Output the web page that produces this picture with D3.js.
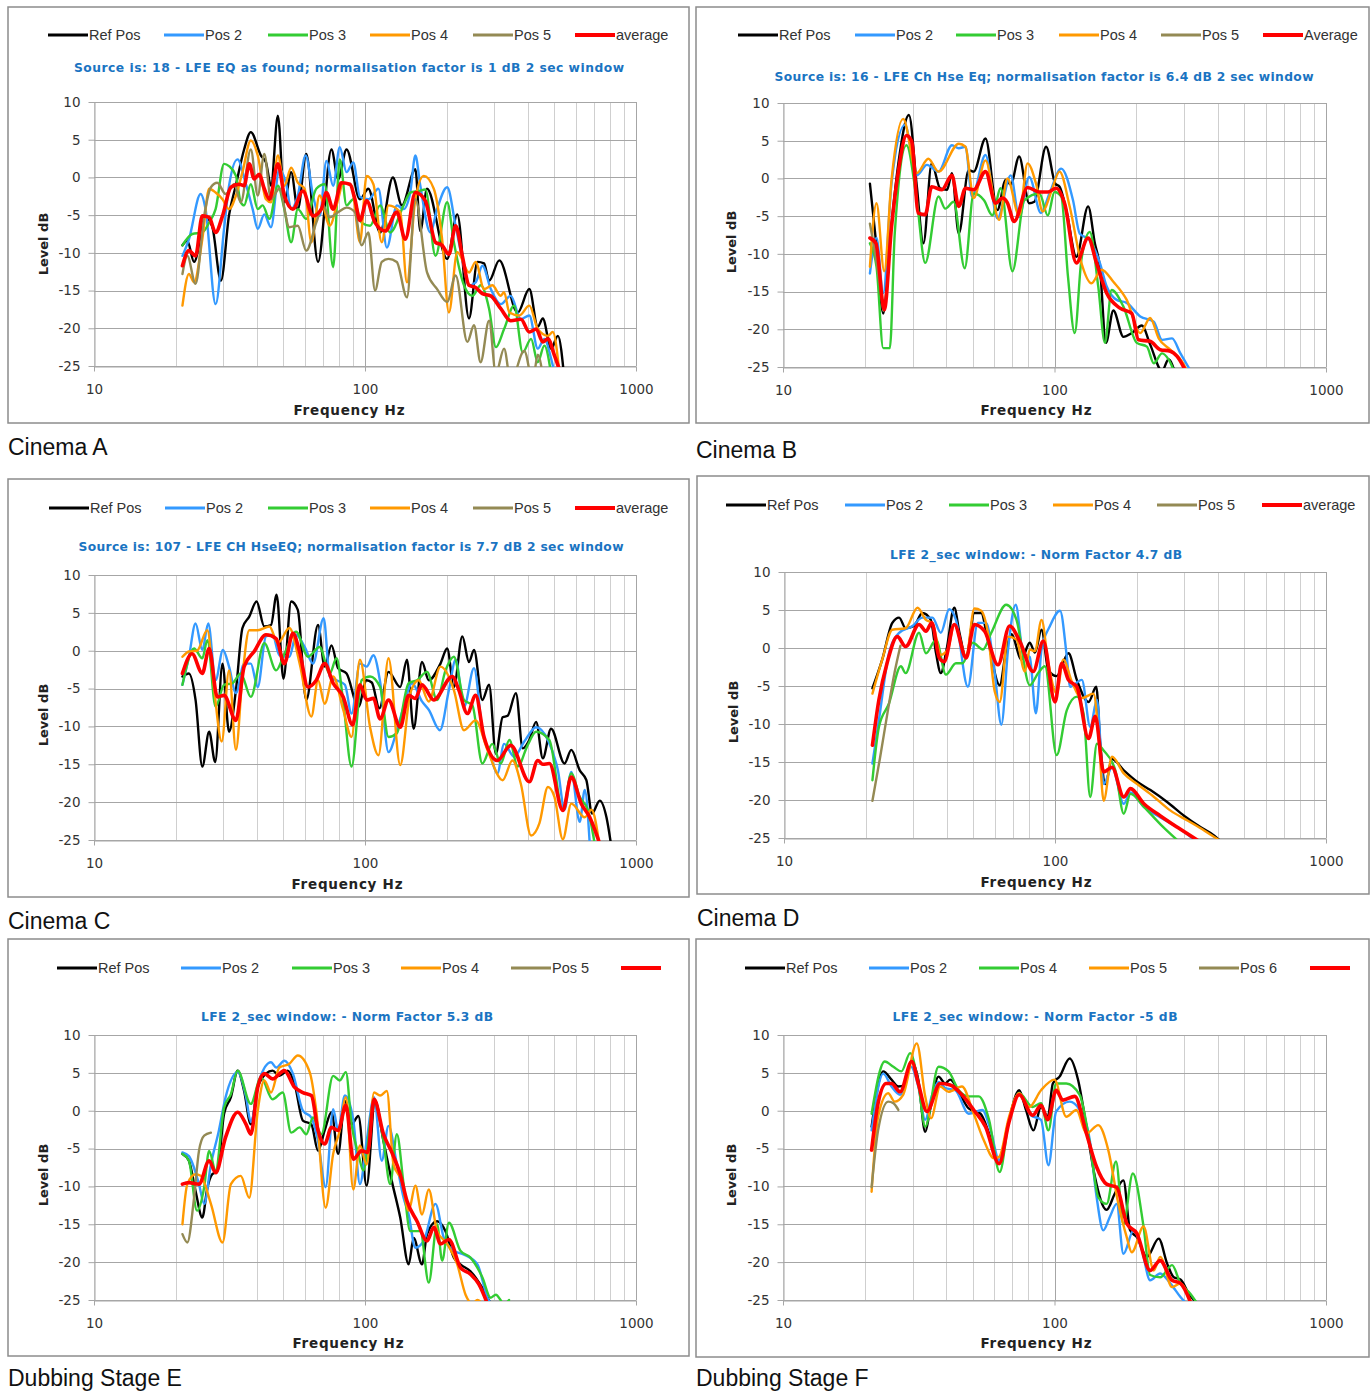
<!DOCTYPE html>
<html><head><meta charset="utf-8">
<script src="https://cdn.jsdelivr.net/npm/d3@7"></script>
<style>
body{margin:0;background:#fff}
svg{display:block}
</style></head><body>
<div id="chart"></div>
<script>
// colours in series order: Ref, Pos 2, Pos 3, Pos 4, Pos 5, average
var colors = ['#000000','#3399ff','#33cc33','#ff9900','#948a54','#ff0000']
var yTicks = [10,5,0,-5,-10,-15,-20,-25]
var xTicks = [10,100,1000]

var namesA = ['Ref Pos','Pos 2','Pos 3','Pos 4','Pos 5','average']
var namesB = ['Ref Pos','Pos 2','Pos 3','Pos 4','Pos 5','Average']
var namesE = ['Ref Pos','Pos 2','Pos 3','Pos 4','Pos 5','']
var namesF = ['Ref Pos','Pos 2','Pos 4','Pos 5','Pos 6','']

// [Hz, dB]
// ---- Cinema A
var aRef = [[21.2,-9],[22.1,-8.4],[23.4,-11.2],[25.8,-5.3],[27.3,-6.5],[29.4,-13.7],[31.5,-5],[33.4,-1],[35.8,3.7],[37.9,6],[41.3,2.9],[43.1,2],[45,-1.1],[47.7,8.2],[50.4,-3.3],[53.4,0.7],[56.5,-4.2],[60.7,3.1],[67.1,-11.2],[75.2,3.7],[79.6,-0.2],[85.5,3.7],[95.8,-2.9],[102.9,-1.5],[113.7,-7.3],[126.7,0],[136.8,-3.7],[153.4,1.1],[160,-7.1],[169.4,-1.5],[201,-10.8],[219,-4.9],[242,-18.7],[260,-11.2],[275,-11.4],[287,-13.7],[313,-11],[366,-17.9],[404,-14.8],[434,-19.8],[453,-18.7],[486,-22.7],[515,-21],[545,-27]]
var aP2 = [[21.2,-10.4],[22.4,-8.2],[24.75,-2.2],[25.8,-4.2],[28.1,-16.8],[30.2,-6.8],[31.5,-1.1],[33.85,2.4],[36.35,-0.9],[38.5,-4.2],[40.2,-6.8],[42.5,-4.9],[45,-6.6],[48.3,1.1],[51.2,-0.9],[53.4,-4.2],[56.5,-2.4],[60.4,2.9],[64.3,-2.4],[68.05,-5.1],[72.05,2.2],[76.3,-1.1],[80.7,4],[85.5,0.7],[90.5,2],[95.8,-2.6],[102.9,-2.9],[112.1,-1.5],[120.4,-9.3],[131.1,-3.7],[138.8,-4.2],[146.9,-2],[153.4,2.9],[160,-1.1],[174.3,-7.3],[184.5,-4.2],[201,-1.3],[215.9,-6.4],[228.6,-10.8],[242,-14.3],[256.1,-13.9],[271.2,-11.7],[291.2,-14.8],[317,-16.8],[345,-15.7],[376,-18.8],[404,-18.3],[434,-22.7],[459,-21.4],[486,-24],[508,-27]]
var aP3 = [[21.2,-9],[23.05,-7.5],[25.1,-7.3],[26.6,-6],[28.1,-4.2],[30.2,1.8],[31.5,1.5],[33.4,0.2],[34.8,-3.3],[35.8,-3.7],[37.9,-0.9],[40.2,-4.2],[41.9,-3.7],[44.4,-5.5],[47.7,-1.1],[50.4,-4.2],[53.4,-8.6],[56.5,-4.2],[60.7,-5.5],[66.1,-1.5],[71,-0.9],[76.3,-11.9],[80.7,2.4],[85.5,-3.7],[90.5,-2.9],[97.2,-6],[104.4,-6.4],[113.7,-3.7],[123.8,-7.3],[138.8,-3.7],[146.9,-2],[157.8,-1.8],[167,-1.6],[182,-10.4],[201,-3.3],[212.8,-8.6],[231.9,-14.3],[248.9,-15.7],[267.3,-14.3],[287,-17.4],[304,-22.5],[326,-20.1],[355,-17],[382,-23.2],[410,-21.4],[434,-24.5],[459,-22.3],[486,-26]]
var aP4 = [[21.2,-17],[22.4,-12.8],[23.4,-13.9],[25.1,-8.2],[26.6,-1.5],[28.1,-2],[29.8,-2.9],[31.5,-4.2],[33.4,-2.4],[35.3,0.7],[37.9,4.9],[40.2,2.9],[43.1,-2.9],[45,-3.3],[47.7,2.9],[50.4,-1.1],[53.4,1.3],[56.5,-0.7],[59.9,-1.5],[63.4,-8.6],[68,-2.4],[74.1,-6.4],[79.6,-2.9],[83.1,-0.7],[89.2,-1.1],[95.8,-8.6],[101.4,0.2],[107.4,-0.9],[115.3,-8.6],[122.1,-3.7],[134.9,-4.6],[142.8,-13.9],[153.4,-2.9],[164.7,0.2],[179.4,-1.5],[192.6,-8.2],[204,-17.9],[219,-9.9],[242,-12.6],[256,-11.2],[275,-14.8],[295,-14.3],[317,-15.7],[326,-15.2],[341,-17.9],[371,-18.3],[404,-17],[434,-20.1],[473,-21],[493,-20.5],[522,-26]]
var aP5 = [[21.2,-12.8],[22.1,-10.4],[23.7,-14.1],[25.5,-5.1],[27,-1.3],[28.5,-0.7],[30.6,-2.2],[32.9,-0.9],[34.8,-3.3],[37.9,3.7],[40.2,-2.4],[42.5,3.1],[45,-2.9],[48.3,-1.5],[52.6,-6.6],[56.5,-6.4],[60.7,-9.7],[66.1,-6],[70,-3.7],[74.1,-5.3],[79.6,-4.6],[85.5,-4],[91.8,-4.6],[97.2,-9],[102.9,-7.3],[108.9,-15],[115.3,-11.2],[122.1,-10.8],[131,-11.2],[142.8,-15.9],[153.4,-2.9],[169.4,-12.6],[184.5,-14.8],[201,-16.5],[216,-13],[238.6,-21.8],[252.5,-19.6],[267,-24.5],[287,-19],[304,-26],[326,-22.7],[345,-27],[387,-23],[416,-27],[434,-23.5],[459,-28]]
var aAvg = [[21.2,-11.7],[22.4,-9.7],[23.7,-10.4],[25.1,-5.1],[26.6,-5.3],[28.1,-7.3],[29.8,-5.1],[32,-1.3],[34.3,-0.9],[35.8,-1.1],[37.4,1.8],[39,-0.2],[40.7,0.4],[42.5,-1.5],[44.4,-2.9],[47.7,1.8],[50.4,-2.4],[54.2,-4.2],[59,-1.8],[64.3,-5.1],[69,-4.2],[72,-2],[76.3,-4.2],[81.9,-0.7],[88,-0.9],[91.8,-2.9],[95.8,-5.7],[101.4,-3.1],[108.9,-6],[118.7,-7.1],[131,-4.6],[140.8,-8.2],[153.4,-2],[167,-3.1],[182,-8.6],[192.6,-9],[204,-10.2],[216,-6.4],[228.6,-10.4],[242,-14.3],[256,-14.6],[271,-15.4],[291,-15.7],[317,-17.4],[345,-19],[376,-18.8],[404,-20.5],[428,-20.1],[453,-21.8],[473,-21.4],[500,-23.6],[522,-25.5]]

// ---- Cinema B
var bRef = [[20.9,-0.7],[22.1,-9],[23.4,-17.9],[24.8,-8],[26.6,2],[29.1,8.4],[31.1,-1],[32.9,-8.6],[35.3,2],[37.9,-1.3],[40.2,-1.5],[41.9,0.7],[44.4,-7.3],[48.3,1.1],[50.4,0.9],[55.7,5.3],[61.6,-4.2],[66.1,-0.2],[69,-0.8],[74.1,2.9],[80.7,-3.3],[84.3,-3.1],[93.1,4.2],[100.7,-0.7],[104.4,-1.1],[110.5,-4.2],[120.4,-10.4],[133,-3.7],[140.8,-8.6],[146.9,-11.7],[154.7,-21.8],[164.7,-17.5],[179.4,-21],[192.6,-20.5],[210,-19.5],[225,-22],[249,-25.5],[263,-24],[279,-26]]
var bP2 = [[20.9,-12.6],[22.1,-7.9],[23.4,-15.2],[25.1,-0.7],[28.1,7.1],[31.1,0.4],[33.9,1.8],[37.4,0.9],[41.9,4.4],[44.4,4],[47,4.2],[49.7,-2.4],[55.7,3.1],[61.6,-5.3],[69,0.4],[74.1,-5.1],[80.7,0.2],[89.2,-4.6],[95.8,-2],[105.9,1.3],[117,-2.9],[123.8,-7.3],[134.9,-8.2],[146.9,-11.2],[155.6,-14.3],[169.4,-16.1],[184.5,-16.5],[207,-18.3],[232,-19],[249,-21.4],[271,-21.2],[291,-23.2],[317,-25.5]]
var bP3 = [[20.9,-8.6],[22.1,-11.7],[23.4,-22.5],[24.75,-22.5],[25.8,-7.3],[28.5,4.4],[31.1,-2.9],[33.4,-11.2],[37.4,-2.4],[39.6,-4],[42.5,-3.1],[46.7,-11.9],[50.4,-2],[55,-2.9],[59,-4.9],[63.4,-1.3],[70,-12.3],[77.4,-2.9],[88,-2],[94.5,-4.9],[100,-1.8],[105.9,-2.4],[112.1,-13],[118.7,-20.5],[125.6,-10.8],[134.9,-7.1],[144.9,-14.3],[153.4,-21.8],[162.3,-14.8],[179.4,-17],[201,-21.8],[219,-22.3],[232,-24.5],[249,-23.2],[263,-24],[279,-26]]
var bP4 = [[20.9,-11.7],[22.1,-3.3],[23.6,-12.3],[25.1,-0.2],[27.7,7.9],[31.1,0.7],[34.3,2.6],[37.4,0.9],[44.4,4.6],[47,4.2],[50.4,-2.6],[55.7,2.4],[62.5,-5.5],[67.1,0],[74.1,-4.9],[79.6,2],[85.5,-0.7],[90.5,-4.4],[97.2,-1.8],[104.4,0.9],[113.7,-3.7],[125.6,-11.2],[136.8,-13.9],[149,-12.1],[164.7,-13.7],[184.5,-16.1],[207,-20.5],[225,-18.5],[242,-21.2],[267,-22.7],[295,-24.3],[313,-26]]
var bP5 = [[20.9,-6],[22.2,-11.5],[23.4,-17.5]]
var bAvg = [[20.9,-7.9],[22,-8.6],[23.6,-17.4],[25.1,-6.4],[26.6,0.9],[28.5,5.7],[29.8,4.9],[31.5,-4.6],[33.4,-4.8],[35.3,-1.1],[38.5,-1.5],[41.9,0.4],[44.4,-3.7],[47,-1.3],[50.4,-1.5],[55.7,0.9],[60.7,-3.3],[64.3,-2.6],[67,-3.2],[71,-5.7],[79.6,-1.2],[88,-1.8],[94.5,-1.8],[101.4,-1.3],[108.9,-3.3],[120.4,-11.2],[133,-7.9],[142.8,-11.2],[155.6,-15.2],[174.3,-17.2],[192.6,-17.9],[204,-21.4],[225,-21.6],[245,-22.7],[267,-22.9],[283,-23.6],[304,-25.5]]

// ---- Cinema C
var cRef = [[21.2,-3.4],[22.4,-3],[23.7,-6.5],[25.1,-15.3],[26.6,-10.7],[28,-14.7],[29.8,-1.7],[31.5,-10.7],[33.4,-5.2],[35.3,3],[37.4,4.5],[39.8,6.5],[42.5,3.2],[45,3.4],[47.2,7.4],[50,-3.7],[53.4,6.5],[56.5,5.4],[60.7,-6.5],[67.1,3.4],[71,-2.1],[75.2,0.7],[79.6,-2.3],[85.5,-3],[94.5,-7.4],[101.4,-3.9],[105.9,-4.2],[113,-7.6],[122.1,-2.8],[134.9,-4.8],[142.8,-1.2],[151.2,-10.3],[162.3,-1.5],[171.9,-3.9],[189.9,-1.7],[201,0.3],[212.8,-4.8],[228.6,1.9],[242,-1.5],[252.5,0.1],[271,-6.5],[287,-4.5],[304,-13.6],[322,-8.8],[336,-8.6],[360.5,-5.6],[382,-12.9],[404,-11.8],[428,-9.4],[453,-14.2],[486,-10.3],[545,-14.9],[577,-13.1],[620,-15.8],[656,-17.1],[688,-21.5],[735,-19.8],[778,-22],[812,-26]]
var cP2 = [[21.2,-4.5],[22.4,-0.8],[23.7,3.6],[25.1,0.1],[26.4,3.6],[28.1,-3.9],[29.9,0.1],[31.5,-2.1],[33.4,-5.6],[35.8,-1.7],[37.9,-1.7],[40.2,-4.8],[43.1,1.9],[45.6,2.1],[48.3,-0.6],[52.6,-0.8],[55.7,2.1],[59.9,0.5],[64.3,-1.7],[70.4,4.3],[74.1,-3.4],[78.5,-3.9],[84.3,-4.5],[89.2,-8.3],[95.8,-1.7],[101.4,-2.1],[107.4,-0.6],[113.7,-4.1],[122.1,-13.4],[131.1,-10.5],[138.8,-7.4],[149.1,-4.3],[162.3,-6.7],[171.9,-7.8],[189,-10.5],[204,-5.2],[216,-1.2],[232,-7.4],[252.5,-2.3],[271,-10.5],[291,-14],[308,-16.2],[326,-12.3],[355,-14],[387,-12],[428,-10.1],[473,-11.8],[515,-15.8],[545,-21],[577,-16],[620,-22.6],[647,-18.4],[675,-25.5]]
var cP3 = [[21.2,-4.5],[23.4,0.3],[25.1,-1],[26.2,1.4],[28.1,-7.4],[30.2,-4.5],[32.4,-4.3],[34.8,-3],[37.9,-6.1],[42.5,1],[47,-2.6],[50.4,-0.4],[55.7,2.5],[61.6,-0.8],[68,0.5],[74.1,-3],[78.5,-1],[83.1,-6.7],[89.2,-15.3],[97.2,-3.9],[104.4,-3.4],[113.7,-4.8],[122.1,-11.4],[131.1,-10.9],[144.9,-4.3],[155.6,-3.9],[169.4,-2.8],[184.5,-6.5],[198.2,-2.6],[212.8,-0.8],[231.9,-6.5],[249,-7.2],[271,-14.9],[295,-12.3],[317,-14.9],[341,-11.8],[366,-15.3],[398,-12.5],[428,-10.7],[479,-11.8],[537,-21.1],[577,-16.2],[620,-19.3],[665,-21.1],[704,-25.5]]
var cP4 = [[21.2,-0.8],[22.4,-0.1],[24,0],[26.2,2.7],[27.7,-4.8],[29.6,-12],[31.5,-2.6],[33.4,-13.1],[35.3,-3.4],[37.4,2.7],[40.2,2.7],[44.4,3.2],[47.7,1],[52.6,3],[57.4,-1.7],[63.4,-8.7],[67.1,-3.9],[71,-7],[76.3,-3.4],[83.1,-7.8],[89.2,-11.4],[95.8,-1.2],[104.4,-10.1],[112.1,-13.8],[122.1,-1],[134.9,-15.1],[146.9,-5.6],[157.8,-3.9],[171.9,-6.7],[189.9,-2.1],[212.8,-5.2],[231.9,-10.5],[256,-9.2],[283,-13.1],[322,-17.1],[350,-14.5],[376,-17.6],[410,-24.4],[440,-22.8],[473,-18],[500,-19.3],[537,-24.9],[577,-20.2],[647,-22],[685,-21],[735,-26]]
var cP5 = []
var cAvg = [[21.2,-3],[23,-0.4],[25.1,-3],[26.6,0.3],[28.5,-6.1],[30.2,-5.9],[33.4,-9.2],[35.8,-2.1],[39,-0.1],[43.1,2.1],[47,1.6],[50.4,-1.7],[54.2,2.3],[57.4,-0.2],[61.6,-4.8],[66.1,-3.9],[71,-1.7],[76.3,-4.3],[83.1,-6.1],[90,-9.8],[95.8,-4.5],[101.4,-6.5],[107.4,-6.3],[113.7,-9],[122.1,-6.5],[134.9,-10.1],[144.9,-5.9],[153.4,-6.3],[162.3,-4.5],[179.4,-6.5],[210,-3.4],[222,-5.2],[238.6,-8.3],[256,-5.9],[275,-11.4],[308,-14.5],[345,-12.5],[404,-17.3],[434,-14.5],[453,-15],[479,-14.9],[537,-21.1],[577,-16.7],[628,-20.2],[675,-22],[735,-25.5]]

// ---- Cinema D
var dRef = [[21.2,-5.3],[23.05,-1.5],[25.1,3.3],[26.6,4],[28.1,2.6],[30.2,2.9],[32.4,4.6],[34.8,3.7],[36.4,-0.7],[37.9,-3.3],[39.8,-0.2],[42.5,5.3],[44.4,2],[47,-1.3],[50.4,4.6],[53.4,4.6],[56.5,1.1],[62.5,-4.9],[66.1,-0.2],[69,1.8],[75.2,-1.5],[80.7,0.7],[84.3,-0.6],[89.2,2.4],[94.5,-2.9],[101.4,-3.7],[112.1,-0.7],[120.4,-4.2],[133,-7.1],[142,-5.1],[146.9,-12.6],[153.4,-17.9],[162.3,-14.6],[179.4,-16.1],[201,-17.6],[225,-18.7],[260,-20.3],[300,-22.1],[345,-23.6],[387,-24.7],[410,-25.5]]
var dP2 = [[21.2,-15.2],[22.4,-9.5],[24.4,-0.7],[26.6,2],[29.8,2.9],[32.4,4],[35.3,4],[37.9,2],[40.7,5.1],[43.1,3.7],[47.7,-5.1],[51.9,3.3],[55.7,3.3],[59.9,-3.3],[63.4,-10.1],[67.1,-0.2],[71.6,5.7],[76.3,-0.7],[80.7,-1.2],[85,-8.6],[89.2,-0.2],[95.8,2.9],[104.4,4.9],[110.5,-1.1],[113.7,-5.1],[125.6,-4.2],[134.9,-10.4],[142.8,-6.8],[151.2,-17.9],[162.3,-15.7],[179.4,-20.5],[189.9,-19],[212.8,-20.9],[245,-22.3],[283,-23.6],[326,-25.2]]
var dP3 = [[21.2,-17.4],[22.4,-10.4],[24.4,-7.3],[27,-2.4],[28.1,-3.3],[31.5,2],[33.4,-0.7],[36.4,1.1],[39.6,-3.5],[43.1,-2],[45.6,-2],[49.7,0.7],[54.2,-0.2],[58.2,2],[66.1,5.7],[72.1,3.7],[80.7,-4.9],[86.7,-3.3],[91.8,-2.4],[101.4,-14.1],[110.5,-8.2],[120.4,-6.4],[127.4,-8.6],[134.9,-19.6],[142.8,-12.6],[151.2,-13.5],[167,-16.1],[179.4,-21.8],[189.9,-19.2],[212.8,-20.9],[245,-23.2],[283,-25.3]]
var dP4 = [[21.2,-6],[23.05,-1.5],[25.1,2.4],[28.1,2.6],[31.1,5.3],[33.4,3.7],[35.3,3.3],[37.9,-0.9],[40.2,-0.2],[42.5,3.1],[47,-1.1],[50.4,5.2],[53.4,4.9],[56.5,2],[59.9,-5.7],[62.5,-7.1],[67.1,1.5],[72.1,1.1],[77.4,-3.1],[80.7,-0.2],[84.3,-0.4],[89.2,3.7],[94.5,-2],[101.4,-6],[107.4,-1.5],[115.3,-4.4],[125.6,-6.6],[138.8,-6],[144.9,-11.7],[151.2,-20.1],[162.3,-14.3],[179.4,-16.5],[201,-17.9],[232,-19.6],[267,-21.4],[308,-22.7],[355,-24],[404,-25.3]]
var dP5 = [[21.2,-20.1],[22.6,-14.5],[24.1,-8.5],[25.6,-3.2],[26.9,0.3]]
var dAvg = [[21.2,-12.8],[22.4,-6.8],[24,-2],[26.2,1.5],[28.1,0.2],[31.5,3.1],[33.4,2.2],[35.1,3.3],[37.4,-1.3],[39,-1.8],[42.5,3.1],[47,-1.3],[50.4,3.1],[55,2.2],[61.6,-2.2],[68,2.9],[74.1,0.9],[83.1,-3.1],[90.5,0.9],[100,-7.1],[105.9,-2],[112.1,-4.2],[120.4,-5.1],[133,-11.9],[140.8,-9],[151.2,-16.3],[162.3,-15.7],[179.4,-19.6],[189.9,-18.5],[212.8,-20.5],[245,-22.1],[283,-23.6],[336,-25.3]]

// ---- Dubbing Stage E
var eRef = [[21.2,-5.7],[22.4,-6.6],[23.7,-10.6],[25.1,-14.1],[26.2,-10.2],[27.3,-8.4],[28.5,-8],[30.2,-0.4],[32,1.8],[33.9,5.3],[35.8,2.6],[37.9,-1.8],[40.2,3.1],[43.1,4.9],[45.6,5.3],[48.3,4.6],[51.9,5.3],[55,3.5],[59,-1.3],[63.4,-1.8],[67.1,-5.3],[71,-2.6],[75.2,-0.2],[79.6,-5.7],[84.3,1.3],[89.2,-1.8],[94.5,-0.7],[101.4,-9.9],[108.9,1.3],[117,-4],[125.6,-9.3],[134.9,-14.1],[144.9,-20.3],[151.2,-16.8],[162.3,-20.3],[169.4,-16.3],[184.5,-14.6],[198,-15.9],[212.8,-19.4],[225,-20.3],[245,-21.2],[271,-23.4],[291,-25.5]]
var eP2 = [[21.2,-5.5],[22.4,-6],[24.4,-9.7],[25.5,-12.3],[27,-7.1],[28.9,-2.6],[30.6,1.8],[33.9,5.1],[36.4,1.8],[37.9,-1.5],[40.7,4],[45,6.4],[47,5.7],[50.4,6.6],[54.2,4.9],[59,0],[63.4,-0.9],[67.1,-4],[71.6,-10.1],[76.3,0.2],[79.6,-2.6],[84.3,2],[90.5,-1.2],[95.8,-9.7],[101.4,-4],[108,1.8],[115.3,-6.6],[122.1,-2],[131.1,-7.1],[138.8,-11.5],[144.9,-13.7],[153.4,-18.1],[164.7,-17.2],[182,-12.3],[195.4,-16.8],[212.8,-18.5],[232,-19],[260,-20.3],[283,-24.7],[304,-26]]
var eP3 = [[21.2,-5.7],[22.4,-6.6],[24,-13.2],[25.5,-10.1],[26.6,-5.3],[28.1,-7.9],[30.2,0.4],[32,2.2],[33.9,5.3],[37.9,0.9],[41.3,4.4],[45.6,1.5],[49.7,2.4],[53.4,-2.9],[57.4,-2.2],[60.7,-3.1],[64.3,-0.9],[69,-3.1],[76.3,4.6],[80.7,4],[85,5.1],[89.2,-1.8],[94.5,-5.7],[98.6,-7.9],[108,1.3],[117,-4],[123.8,-9.7],[131.1,-3.1],[138.8,-9.7],[146.9,-15.9],[160,-15.9],[171.9,-22.7],[184.5,-15],[192.6,-19.8],[204,-14.8],[225,-18.5],[245,-19.4],[271,-22],[291,-24.7],[304,-24.3],[326,-25.5],[340,-25]]
var eP4 = [[21.2,-15],[22.1,-9.7],[23.7,-8.4],[24.75,-8.6],[27,-12.3],[29.8,-17.4],[32,-9.7],[34.8,-8.6],[37.4,-11.5],[40.2,0],[42.5,4],[45,2.4],[48.3,5.7],[52.6,6.2],[56.5,7.3],[62.5,5.1],[66.1,0],[71.6,-12.8],[76.3,-5.7],[80.7,-2.6],[85,1.8],[90.5,-10.4],[95.8,-4.6],[101.4,-7.1],[108,2.4],[113.7,2],[120.4,2.6],[127.4,-7.1],[136.8,-9.3],[144.9,-13.2],[153.4,-9.9],[162.3,-13.7],[171.9,-10.4],[184.5,-15.9],[201,-17.6],[219,-20.3],[235,-24.3],[249,-25.5],[260,-25],[271,-25.5]]
var eP5 = [[21.2,-16.3],[22.1,-17.4],[23.4,-11.5],[24.4,-5.3],[25.5,-3.3],[27,-2.9]]
var eAvg = [[21.2,-9.7],[22.4,-9.5],[24.4,-9.7],[26.6,-6.6],[28.1,-8.2],[30.6,-3.5],[33.9,-0.2],[36.4,-1.8],[37.9,-3.1],[40.2,3.1],[42.5,4.9],[45.6,4.2],[50.4,5.3],[55,3.1],[59,2.4],[63.4,2],[67.1,-2.6],[71,-4.4],[75.2,-2.2],[79.6,-2.6],[85,0.7],[90.5,-6.4],[97.2,-5.3],[102.3,-5.5],[108,1.5],[117,-3.1],[125.6,-5.5],[134.9,-8.4],[142.8,-11.9],[155.6,-14.6],[169.4,-17.2],[179.4,-15.4],[190,-17.6],[204,-17],[225,-20.7],[245,-21.6],[263,-22.9],[283,-25.5]]

// ---- Dubbing Stage F
var fRef = [[21.2,-2.1],[23.4,5.2],[25.1,4.1],[26.6,3.2],[28.1,3.4],[29.6,6.5],[31.5,4.1],[33.4,-2.8],[34.8,0.1],[37.4,4.5],[39.6,3.6],[41.3,4.1],[44.4,2.5],[48.3,0.3],[53.4,-0.4],[57.4,-3],[62.5,-7],[68,-1.2],[74.1,2.7],[78.5,0.1],[83.6,-2.6],[89.2,0.5],[94.5,-0.8],[98.6,3.6],[104.4,4.5],[113.7,6.9],[122.1,4.1],[131.1,-2.1],[140.8,-8.7],[155.6,-13.1],[167,-10.9],[179.4,-9.2],[189.9,-15.8],[201,-16.7],[219,-19.3],[242,-16.9],[260,-20.2],[275,-22],[291,-22.3],[313,-24.2],[336,-25.5]]
var fP2 = [[21.2,-2.6],[23.4,4.9],[25.1,3.2],[27,2.1],[29.6,5.8],[31.5,3.2],[33.4,-1.2],[35.3,1.9],[37.4,3.8],[39.6,3],[43.1,2.7],[48.3,-0.4],[54.2,0.1],[58.2,-2.6],[62.5,-6.5],[68,-1.2],[74.1,2.3],[81.9,-0.6],[89.2,-1.2],[95,-7.2],[101.4,-0.1],[113.7,1.2],[123.8,0.1],[134.9,-3.9],[142.8,-11.3],[151.2,-15.8],[160,-14],[169.4,-12.3],[179.4,-18.9],[195.4,-15.8],[210,-18.4],[225,-22.4],[245,-21.5],[267,-22.8],[291,-24.6],[317,-26]]
var fP3 = [[21.2,-0.4],[23.7,6.5],[25.5,5.8],[27.3,5.2],[29.4,7.6],[31.5,3.6],[33.4,-2.1],[37.4,5.8],[40.7,5.2],[44.4,2.7],[48.3,1.9],[52.6,1.9],[57.4,-1.2],[62.8,-8.1],[68,-1.2],[74.1,2.3],[83.1,0.5],[89.2,1],[95,-2.6],[101.4,3.6],[110.5,3.6],[123.8,2.1],[134.9,-4.3],[144.9,-11.4],[155.6,-12.3],[168.5,-6.7],[179.4,-15],[194.3,-8.3],[212.8,-15.3],[225,-21.7],[245,-22],[271,-20.4],[291,-22.8],[317,-24.2],[336,-25.5]]
var fP4 = [[21.2,-10.7],[22.4,-0.8],[24.4,2.3],[25.8,1.2],[27.7,2.1],[31.1,8.9],[33.4,1.9],[35.1,-1],[37.9,3.2],[40.7,2.5],[45.6,3.2],[50.4,-0.4],[54.9,-3.9],[59.9,-6.3],[62.5,-6.1],[68,-0.8],[74.1,2.3],[80.7,0.5],[89.2,2.7],[100,4.1],[110.5,-0.8],[120.4,0.1],[131.1,-3],[144.9,-1.9],[157.8,-5.2],[171.9,-12.3],[184.5,-16.7],[192.6,-18.7],[212.8,-15.3],[232,-21.1],[245,-19.3],[271,-23.3],[291,-22.8],[317,-25.3]]
var fP5 = [[21.2,-10.1],[22.4,-2.6],[24.4,1.2],[25.5,1],[26.6,0.1]]
var fAvg = [[21.2,-5.2],[22.4,1],[24,3.6],[25.1,3.6],[27,2.5],[29.8,6.5],[31.5,3.6],[33.9,-0.1],[37.9,3.6],[41.3,3.4],[45.6,2.1],[50.4,0.1],[55.7,-2.1],[62.5,-7],[68,-1.5],[74.1,2.1],[83.1,-0.6],[89.2,0.7],[94.5,-1.2],[101.4,2.7],[107.4,1.4],[118.7,1.9],[131.1,-3],[142.8,-7.4],[155.6,-9.7],[169.4,-10.1],[184.5,-14.9],[201,-16.2],[225,-21.1],[245,-19.8],[271,-22.4],[291,-22.8],[317,-25.3]]

var panels = [
  {box:[8,7,689,423], plot:[94,636,102,366], legY:35, legX:[48,164,268,370,473,575], names:namesA,
   title:'Source is: 18 - LFE EQ as found; normalisation  factor is 1 dB 2 sec window', tx:349, ty:72, tw:550,
   cap:'Cinema A', capY:455, fx:349, fy:415, ly:244, lx:43, series:[aRef,aP2,aP3,aP4,aP5,aAvg]},
  {box:[696,7,1369,423], plot:[783,1326,103,367], legY:35, legX:[738,855,956,1059,1161,1263], names:namesB,
   title:'Source is: 16 - LFE Ch Hse Eq; normalisation factor is 6.4 dB 2 sec window', tx:1044, ty:81, tw:539,
   cap:'Cinema B', capY:458, fx:1036, fy:415, ly:242, lx:731, series:[bRef,bP2,bP3,bP4,bP5,bAvg]},
  {box:[8,479,689,897], plot:[94,636,575,840], legY:508, legX:[49,165,268,370,473,575], names:namesA,
   title:'Source is: 107 - LFE CH HseEQ; normalisation factor is 7.7 dB 2 sec window', tx:351, ty:551, tw:545,
   cap:'Cinema C', capY:929, fx:347, fy:889, ly:715, lx:43, series:[cRef,cP2,cP3,cP4,cP5,cAvg]},
  {box:[697,476,1369,894], plot:[784,1326,572,838], legY:505, legX:[726,845,949,1053,1157,1262], names:namesA,
   title:'LFE 2_sec window: - Norm Factor 4.7 dB', tx:1036, ty:559, tw:292,
   cap:'Cinema D', capY:926, fx:1036, fy:887, ly:712, lx:733, series:[dRef,dP2,dP3,dP4,dP5,dAvg]},
  {box:[8,939,689,1356], plot:[94,636,1035,1300], legY:968, legX:[57,181,292,401,511,621], names:namesE,
   title:'LFE 2_sec window: - Norm Factor 5.3 dB', tx:347, ty:1021, tw:292,
   cap:'Dubbing Stage E', capY:1386, fx:348, fy:1348, ly:1175, lx:43, series:[eRef,eP2,eP3,eP4,eP5,eAvg]},
  {box:[696,939,1369,1357], plot:[783,1326,1035,1300], legY:968, legX:[745,869,979,1089,1199,1310], names:namesF,
   title:'LFE 2_sec window: - Norm Factor -5 dB', tx:1035, ty:1021, tw:285,
   cap:'Dubbing Stage F', capY:1386, fx:1036, fy:1348, ly:1175, lx:731, series:[fRef,fP2,fP3,fP4,fP5,fAvg]}
]

var svg = d3.select('#chart').append('svg')
  .attr('width', 1370).attr('height', 1392)
  .style('font-family', 'Liberation Sans, Arial, sans-serif')

svg.append('rect').attr('width',1370).attr('height',1392).attr('fill','#fff')

// plain hyphen for negatives, like the original
var numFmt = function(d){ return String(d) }

panels.forEach(function(p, i){
  var g = svg.append('g')

  g.append('rect')
    .attr('x', p.box[0]).attr('y', p.box[1])
    .attr('width', p.box[2]-p.box[0]).attr('height', p.box[3]-p.box[1])
    .attr('fill', '#fff').attr('stroke', '#8c8c8c').attr('stroke-width', 1.5)

  var x = d3.scaleLog().domain([10,1000]).range([p.plot[0], p.plot[1]])
  var y = d3.scaleLinear().domain([-25,10]).range([p.plot[3], p.plot[2]])

  // vertical grid: 10..90, 100..900, 1000
  g.append('g').selectAll('line')
    .data(x.ticks())
    .enter().append('line')
    .attr('x1', function(d){ return Math.round(x(d))+0.5 }).attr('x2', function(d){ return Math.round(x(d))+0.5 })
    .attr('y1', p.plot[2]).attr('y2', p.plot[3])
    .attr('stroke', function(d){ return (d==100 || d==1000) ? '#a6a6a6' : '#cfcfcf' })
    .attr('stroke-width', 1)

  // horizontal grid
  g.append('g').selectAll('line')
    .data(yTicks)
    .enter().append('line')
    .attr('x1', p.plot[0]).attr('x2', p.plot[1])
    .attr('y1', function(d){ return Math.round(y(d))+0.5 }).attr('y2', function(d){ return Math.round(y(d))+0.5 })
    .attr('stroke', '#a6a6a6').attr('stroke-width', 1)

  // axes
  g.append('g')
    .attr('transform', 'translate(' + (p.plot[0]+0.5) + ',0)')
    .call(d3.axisLeft(y).tickValues(yTicks).tickFormat(numFmt).tickSize(6).tickSizeOuter(0).tickPadding(8))
    .call(function(a){
      a.select('.domain').attr('stroke', '#a6a6a6')
      a.selectAll('.tick line').attr('stroke', '#a6a6a6')
      a.selectAll('text').attr('font-family', 'DejaVu Sans, sans-serif').attr('font-size', 13.5).attr('fill', '#333')
    })

  g.append('g')
    .attr('transform', 'translate(0,' + (p.plot[3]+0.5) + ')')
    .call(d3.axisBottom(x).tickValues(xTicks).tickFormat(numFmt).tickSize(5).tickSizeOuter(0).tickPadding(13))
    .call(function(a){
      a.select('.domain').attr('stroke', '#a6a6a6')
      a.selectAll('.tick line').attr('stroke', '#a6a6a6')
      a.selectAll('text').attr('font-family', 'DejaVu Sans, sans-serif').attr('font-size', 13.5).attr('fill', '#333')
    })

  // curves
  var clipId = 'clip' + i
  g.append('clipPath').attr('id', clipId)
    .append('rect')
    .attr('x', p.plot[0]).attr('y', p.plot[2]-10)
    .attr('width', p.plot[1]-p.plot[0]).attr('height', p.plot[3]-p.plot[2]+11)

  var line = d3.line()
    .x(function(d){ return x(d[0]) })
    .y(function(d){ return y(d[1]) })
    .curve(d3.curveMonotoneX)

  var lines = g.append('g').attr('clip-path', 'url(#' + clipId + ')')
  p.series.forEach(function(s, k){
    if (!s.length) return
    lines.append('path')
      .datum(s)
      .attr('d', line)
      .attr('fill', 'none')
      .attr('stroke', colors[k])
      .attr('stroke-width', k == 5 ? 3.6 : 2.4)
      .attr('stroke-linejoin', 'round')
      .attr('stroke-linecap', 'round')
  })

  // legend
  var leg = g.append('g')
  p.names.forEach(function(n, k){
    leg.append('line')
      .attr('x1', p.legX[k]).attr('x2', p.legX[k]+40)
      .attr('y1', p.legY).attr('y2', p.legY)
      .attr('stroke', colors[k]).attr('stroke-width', k == 5 ? 4 : 3)
    if (n) leg.append('text')
      .attr('x', p.legX[k]+41).attr('y', p.legY+5)
      .attr('font-size', 14.5).attr('fill', '#333')
      .text(n)
  })

  // chart title
  g.append('text')
    .attr('x', p.tx).attr('y', p.ty)
    .attr('text-anchor', 'middle')
    .attr('font-family', 'DejaVu Sans, sans-serif').attr('font-weight', 'bold')
    .attr('font-size', 12.3).attr('fill', '#1a74c2')
    .attr('textLength', p.tw)
    .text(p.title)

  // axis titles
  g.append('text')
    .attr('x', p.fx).attr('y', p.fy)
    .attr('text-anchor', 'middle')
    .attr('font-family', 'DejaVu Sans, sans-serif').attr('font-weight', 'bold')
    .attr('font-size', 13.5).attr('fill', '#222')
    .attr('textLength', 111)
    .text('Frequency  Hz')

  g.append('text')
    .attr('transform', 'translate(' + (p.lx+5) + ',' + p.ly + ') rotate(-90)')
    .attr('text-anchor', 'middle')
    .attr('font-family', 'DejaVu Sans, sans-serif').attr('font-weight', 'bold')
    .attr('font-size', 13).attr('fill', '#222')
    .text('Level dB')

  // caption under the panel
  svg.append('text')
    .attr('x', p.box[0]).attr('y', p.capY)
    .attr('font-size', 23).attr('fill', '#111')
    .text(p.cap)
})
</script>
</body></html>
